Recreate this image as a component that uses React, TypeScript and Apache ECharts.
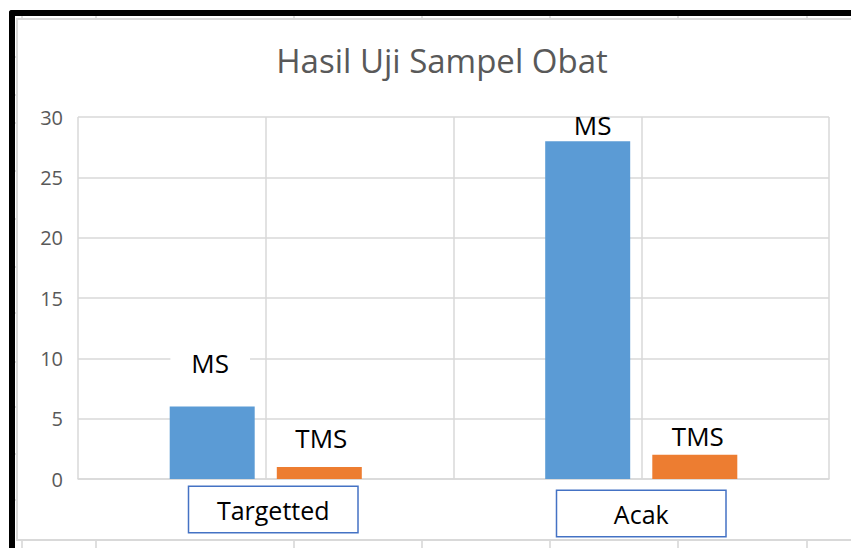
import React, { useEffect, useRef } from "react";
import * as echarts from "echarts";

const categories = ["Targetted", "Acak"];
const msValues = [6, 28];
const tmsValues = [1, 2];
const yTicks = { min: 0, max: 30, interval: 5 };
const seriesNames = ["MS", "TMS"];
const titleText = "Hasil Uji Sampel Obat";

const FONT = "'Open Sans', 'Noto Sans', sans-serif";

export default function App() {
  const ref = useRef<HTMLDivElement>(null);

  useEffect(() => {
    if (!ref.current) return;
    const chart = echarts.init(ref.current, undefined, { renderer: "svg" });

    // label placement tweaks (per bar), not data
    const msLabelCfg = [
      { offset: [-2, -22], backgroundColor: "#ffffff", padding: [2, 21] },
      { offset: [5, 4] },
    ];
    const tmsLabelCfg = [{ offset: [2, -9] }, { offset: [3, 1] }];

    const labelBase = {
      show: true,
      position: "top",
      color: "#000000",
      fontFamily: FONT,
      fontSize: 26,
      lineHeight: 30,
    };

    const msData = msValues.map((v, i) => ({
      value: v,
      label: { ...labelBase, formatter: seriesNames[0], ...msLabelCfg[i] },
    }));
    const tmsData = tmsValues.map((v, i) => ({
      value: v,
      label: { ...labelBase, formatter: seriesNames[1], ...tmsLabelCfg[i] },
    }));

    const gridGrey = "#d9d9d9";
    const cellGrey = "#d4d4d4";

    const decor: any[] = [];
    // spreadsheet cell lines around chart
    [22, 96, 294, 422, 550, 678, 807].forEach((x) => {
      decor.push({
        type: "line",
        shape: { x1: x, y1: 541, x2: x, y2: 548 },
        style: { stroke: cellGrey, lineWidth: 1.5 },
        silent: true,
      });
      decor.push({
        type: "line",
        shape: { x1: x, y1: 15, x2: x, y2: 19 },
        style: { stroke: cellGrey, lineWidth: 1.5 },
        silent: true,
      });
    });
    [57, 95, 123, 171, 219, 267, 313, 362, 407, 454, 500].forEach((y) => {
      decor.push({
        type: "line",
        shape: { x1: 14, y1: y, x2: 18, y2: y },
        style: { stroke: cellGrey, lineWidth: 1.5 },
        silent: true,
      });
    });
    // chart area border
    decor.push({
      type: "polyline",
      shape: {
        points: [
          [852, 19],
          [17, 19],
          [17, 540],
          [852, 540],
        ],
      },
      style: { stroke: gridGrey, lineWidth: 2, fill: null },
      silent: true,
    });
    // thick black spreadsheet border
    decor.push({
      type: "rect",
      shape: { x: 9, y: 10, width: 845, height: 6, r: [3, 0, 0, 0] },
      style: { fill: "#000000" },
      silent: true,
    });
    decor.push({
      type: "rect",
      shape: { x: 9, y: 10, width: 6, height: 540, r: [3, 0, 0, 0] },
      style: { fill: "#000000" },
      silent: true,
    });

    const boxStyle = {
      color: "#000000",
      fontFamily: FONT,
      fontSize: 25,
      width: 168,
      height: 45,
      lineHeight: 45,
      align: "center",
      borderColor: "#4472c4",
      borderWidth: 1.5,
      backgroundColor: "#ffffff",
    };

    chart.setOption({
      animation: false,
      backgroundColor: "#ffffff",
      title: {
        text: titleText,
        left: 437,
        top: 39,
        textAlign: "center",
        textStyle: {
          fontFamily: FONT,
          fontSize: 33,
          fontWeight: "normal",
          color: "#595959",
        },
      },
      grid: { left: 78, right: 22, top: 117, bottom: 69, containLabel: false },
      xAxis: [
        {
          type: "category",
          data: categories,
          axisLine: { show: true, lineStyle: { color: gridGrey, width: 1.5 } },
          axisTick: { show: false },
          splitLine: { show: false },
          axisLabel: {
            margin: 8,
            formatter: (v: string, i: number) =>
              i === 0 ? "{sp| }{box|" + v + "}" : "{vs| }\n{box|" + v + "}",
            rich: {
              sp: { width: 15, fontSize: 1, lineHeight: 45 },
              vs: { height: 4, lineHeight: 4, fontSize: 1 },
              box: boxStyle,
            },
          },
        },
        {
          type: "value",
          min: 0,
          max: 4,
          interval: 1,
          show: true,
          position: "bottom",
          axisLine: { show: false },
          axisTick: { show: false },
          axisLabel: { show: false },
          splitLine: { show: true, lineStyle: { color: gridGrey, width: 1.5 } },
        },
      ],
      yAxis: {
        type: "value",
        min: yTicks.min,
        max: yTicks.max,
        interval: yTicks.interval,
        axisLine: { show: false },
        axisTick: { show: false },
        axisLabel: {
          margin: 15,
          color: "#595959",
          fontFamily: FONT,
          fontSize: 20,
        },
        splitLine: { show: true, lineStyle: { color: gridGrey, width: 1.5 } },
      },
      series: [
        {
          name: seriesNames[0],
          type: "bar",
          xAxisIndex: 0,
          data: msData,
          barWidth: 85,
          barGap: "26%",
          itemStyle: { color: "#5b9bd5" },
          z: 3,
        },
        {
          name: seriesNames[1],
          type: "bar",
          xAxisIndex: 0,
          data: tmsData,
          barWidth: 85,
          barGap: "26%",
          itemStyle: { color: "#ed7d31" },
          z: 3,
        },
      ],
      graphic: { elements: decor },
    });

    return () => chart.dispose();
  }, []);

  return (
    <div
      ref={ref}
      style={{ position: "fixed", left: 0, top: 0, width: 851, height: 548 }}
    />
  );
}
